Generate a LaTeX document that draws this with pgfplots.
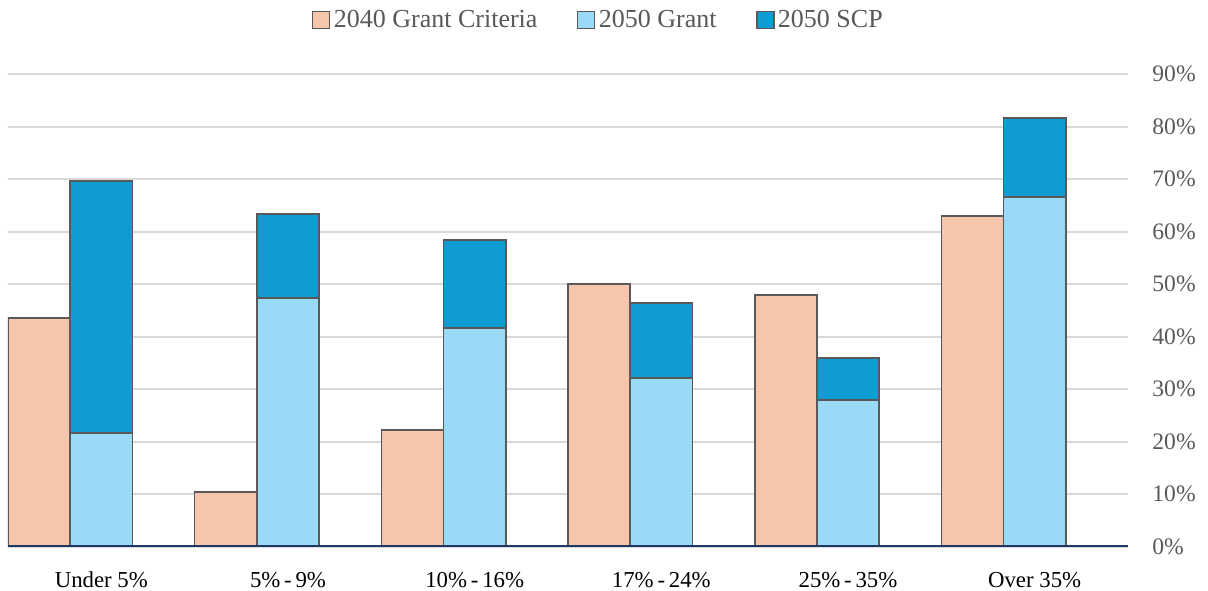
\documentclass[border=0pt]{standalone}
\usepackage{fontspec}
\setmainfont{Liberation Serif}
\usepackage{pgfplots}
\pgfplotsset{compat=1.18}
\definecolor{peach}{HTML}{F5C6AB}
\definecolor{lblue}{HTML}{99DAF6}
\definecolor{dblue}{HTML}{0F9CD4}
\definecolor{edge}{HTML}{595959}
\definecolor{navy}{HTML}{1F3864}
\definecolor{gridc}{HTML}{D9D9D9}
\definecolor{txt}{HTML}{595959}
\begin{document}
\begin{tikzpicture}
\path[use as bounding box] (-4pt,-21.75pt) rectangle (600pt,273.25pt);
\begin{axis}[
  at={(0,0)}, anchor=south west, scale only axis, width=560pt, height=236.25pt,
  xmin=-0.5, xmax=5.5, ymin=0, ymax=90,
  ybar, bar width=31.1pt,
  axis x line*=bottom, axis y line*=right,
  x axis line style={draw=none}, y axis line style={draw=none},
  xtick={0,1,2,3,4,5},
  xticklabels={Under 5\%, 5\%\,-\,9\%, 10\%\,-\,16\%, 17\%\,-\,24\%, 25\%\,-\,35\%, Over 35\%},
  ytick={0,10,20,30,40,50,60,70,80,90},
  yticklabels={0\%,10\%,20\%,30\%,40\%,50\%,60\%,70\%,80\%,90\%},
  yticklabel pos=right,
  major tick length=0pt,
  ymajorgrids, grid style={gridc, line width=1pt},
  yticklabel style={anchor=west, inner sep=0pt, xshift=12pt, font=\fontsize{11.8}{14}\selectfont, text=txt},
  xticklabel style={anchor=base, inner sep=0pt, yshift=-20.4pt, font=\fontsize{11.4}{14}\selectfont, text=black},
  legend style={at={(0.5277,1.1143)}, anchor=center, draw=none, legend columns=-1,
    font=\fontsize{13}{15}\selectfont, text=txt, inner sep=0pt,
    /tikz/every even column/.append style={column sep=18pt},
    nodes={inner sep=1.7pt}},
  legend image code/.code={\draw[#1, line width=0.8pt] (0pt,-4.25pt) rectangle (8.5pt,4.25pt);},
]
\addplot[fill=peach, draw=edge, line width=0.8pt, bar shift=-31.1pt]
  coordinates {(0,43.5) (1,10.4) (2,22.2) (3,50.0) (4,47.9) (5,62.9)};
\addlegendentry{2040 Grant Criteria}
% 2050 SCP drawn as the stack total, covered below by 2050 Grant
\addplot[fill=dblue, draw=edge, line width=0.8pt, bar shift=0pt, forget plot]
  coordinates {(0,69.6) (1,63.3) (2,58.4) (3,46.4) (4,35.9) (5,81.6)};
\addplot[fill=lblue, draw=edge, line width=0.8pt, bar shift=0pt]
  coordinates {(0,21.6) (1,47.3) (2,41.6) (3,32.1) (4,27.9) (5,66.6)};
\addlegendentry{2050 Grant}
\addlegendimage{fill=dblue, draw=edge}
\addlegendentry{2050 SCP}
\draw[navy, line width=1.4pt] (rel axis cs:0,0) -- (rel axis cs:1,0);
\end{axis}
\end{tikzpicture}
\end{document}
